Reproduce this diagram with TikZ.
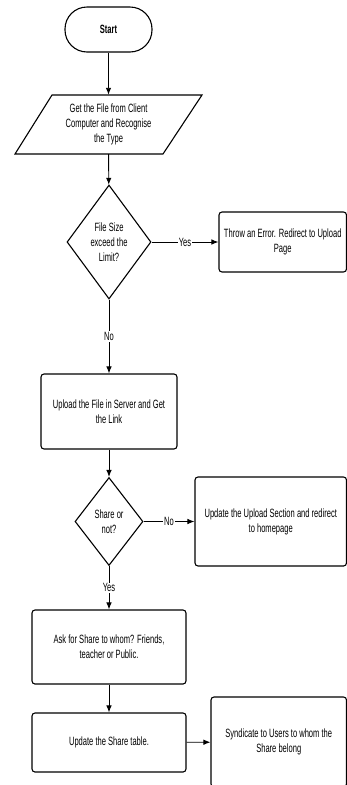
\documentclass[tikz,border=0pt]{standalone}
\usepackage{fontspec}
\setmainfont{Liberation Sans}[FakeStretch=0.63]
\usetikzlibrary{shapes.geometric,arrows.meta}

\begin{document}
\begin{tikzpicture}[x=1pt,y=-1pt,
    font=\fontsize{12}{15}\selectfont,
    box/.style={draw,line width=1.1pt,rounded corners=3pt,align=center,inner sep=2pt},
    decision/.style={draw,diamond,line width=1.1pt,align=center,inner sep=0pt},
    flow/.style={line width=0.9pt,-{Latex[length=7pt,width=5.5pt]}},
    lbl/.style={fill=white,inner sep=1pt}] %Flujo de subida
            \useasboundingbox (0,0) rectangle (347,785);

            \coordinate (A) at (52,95);
            \coordinate (B) at (202,95);
            \coordinate (C) at (163,154);
            \coordinate (D) at (15,154);

            \draw[line width=1.1pt] (A) -- (B) -- (C) -- (D) -- cycle;

            \node[draw,line width=1.1pt,rounded corners=22pt,minimum width=87,minimum height=45] (start) at (108.5,29.5) {\textbf{Start}};
            \node[align=center,inner sep=0pt,minimum height=59] (get) at (108.5,124.5) {Get the File from Client\\Computer and Recognise\\the Type};

            \node[decision,minimum width=84,minimum height=114] (size) at (109,242) {File Size\\exceed the\\Limit?};
            \node[box,minimum width=127.5,minimum height=60] (error) at (282.75,242) {Throw an Error. Redirect to Upload\\Page};

            \node[box,minimum width=136,minimum height=75] (upload) at (109,411.5) {Upload the File in Server and Get\\the Link};

            \node[decision,minimum width=68,minimum height=88] (share) at (109,521.5) {Share or\\not?};
            \node[box,minimum width=151.5,minimum height=89] (home) at (270.75,521.5) {Update the Upload Section and redirect\\to homepage};

            \node[box,minimum width=154,minimum height=74] (ask) at (109,647) {Ask for Share to whom? Friends,\\teacher or Public.};
            \node[box,minimum width=154,minimum height=59] (table) at (109,742.5) {Update the Share table.};
            \node[box,minimum width=135.5,minimum height=90] (synd) at (278.75,742) {Syndicate to Users to whom the\\Share belong};

            \draw[flow] (start) -- (get);
            \draw[flow] (get) -- (size);
            \draw[flow] (size) -- node[lbl]{Yes} (error);
            \draw[flow] (size) -- node[lbl]{No} (upload);
            \draw[flow] (upload) -- (share);
            \draw[flow] (share) -- node[lbl]{No} (home);
            \draw[flow] (share) -- node[lbl]{Yes} (ask);
            \draw[flow] (ask) -- (table);
            \draw[flow] (table) -- (synd);
        \end{tikzpicture}
\end{document}
